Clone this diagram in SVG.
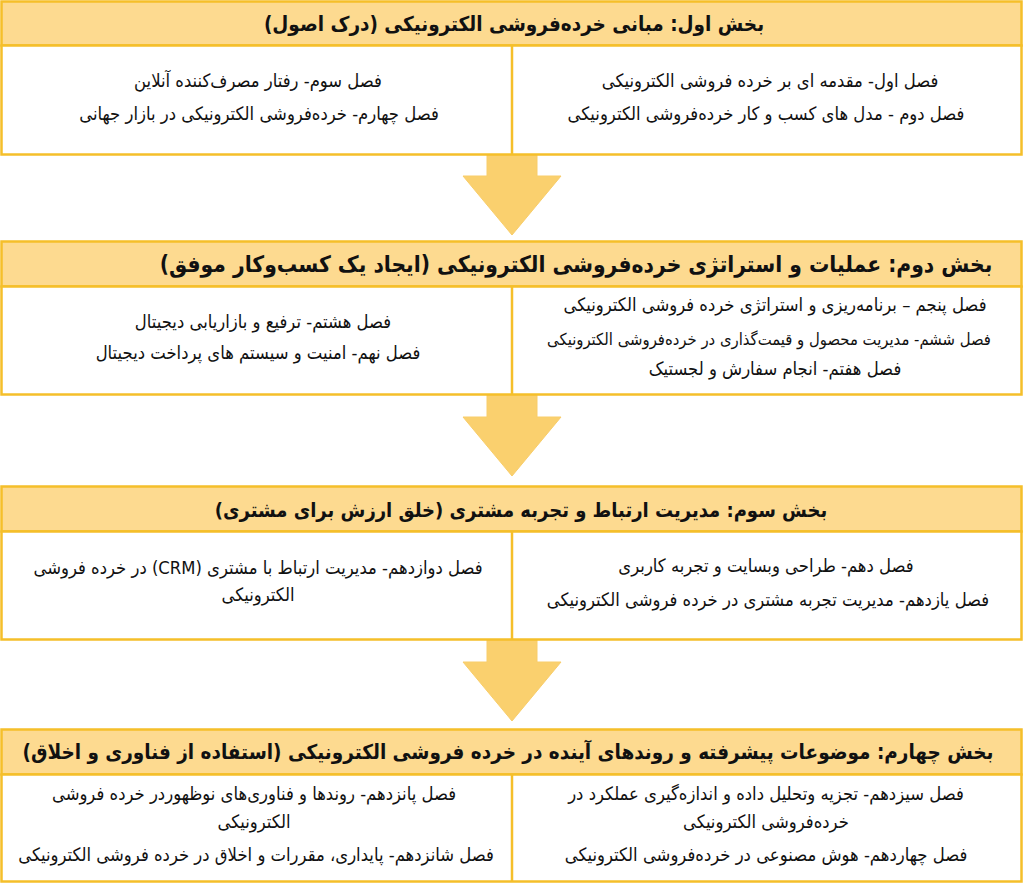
<svg xmlns="http://www.w3.org/2000/svg" width="1024" height="885" viewBox="0 0 1024 885">
<style>
.hdr{fill:#FDDA90;stroke:#F5BF2A;stroke-width:2.5}
.body{fill:#FFFFFF;stroke:#F5BF2A;stroke-width:2.5}
.div{stroke:#F5BF2A;stroke-width:2.5}
.arrow{fill:#FAD06E;stroke:#F8CD6A;stroke-width:1}
.ht{font-family:"DejaVu Sans Condensed","DejaVu Sans",sans-serif;font-stretch:condensed;font-weight:bold;font-size:20.5px;fill:#111;direction:rtl;text-anchor:middle}
.t{font-family:"DejaVu Sans Condensed","DejaVu Sans",sans-serif;font-stretch:condensed;font-size:18.3px;fill:#111;direction:rtl;text-anchor:middle}
</style>
<rect width="1024" height="885" fill="#FFFFFF"/>
<g id="connectors">
<polygon class="arrow" points="487,155 537,155 537,176 561,176 512,235 463,176 487,176"/>
<polygon class="arrow" points="487,395 537,395 537,417 561,417 512,476 463,417 487,417"/>
<polygon class="arrow" points="487,640 537,640 537,662 561,662 512,721 463,662 487,662"/>
</g>
<g id="section1">
<rect class="hdr" x="1.5" y="1.5" width="1020" height="44"/>
<rect class="body" x="1.5" y="45.5" width="1020" height="109"/>
<line class="div" x1="512" y1="45.5" x2="512" y2="154.5"/>
<text class="ht" x="514" y="31">بخش اول: مبانی خرده‌فروشی الکترونیکی (درک اصول)</text>
<text class="t" x="770" y="87">فصل اول- مقدمه ای بر خرده فروشی الکترونیکی</text>
<text class="t" x="766" y="120">فصل دوم  - مدل های کسب و کار خرده‌فروشی الکترونیکی</text>
<text class="t" x="258" y="87">فصل سوم- رفتار مصرف‌کننده آنلاین</text>
<text class="t" x="259" y="120">فصل چهارم- خرده‌فروشی الکترونیکی در بازار جهانی</text>
</g>
<g id="section2">
<rect class="hdr" x="1.5" y="241.5" width="1020" height="45"/>
<rect class="body" x="1.5" y="286.5" width="1020" height="108"/>
<line class="div" x1="512" y1="286.5" x2="512" y2="394.5"/>
<text class="ht" x="576" y="272" style="font-size:22.6px">بخش دوم: عملیات و استراتژی خرده‌فروشی الکترونیکی (ایجاد یک کسب‌وکار موفق)</text>
<text class="t" x="775" y="311">فصل پنجم – برنامه‌ریزی و استراتژی خرده فروشی الکترونیکی</text>
<text class="t" x="769" y="345" style="font-size:16.5px">فصل ششم- مدیریت محصول و قیمت‌گذاری در خرده‌فروشی الکترونیکی</text>
<text class="t" x="775" y="375">فصل هفتم- انجام سفارش و لجستیک</text>
<text class="t" x="263" y="328">فصل هشتم- ترفیع و بازاریابی دیجیتال</text>
<text class="t" x="258" y="359">فصل نهم- امنیت و سیستم های پرداخت دیجیتال</text>
</g>
<g id="section3">
<rect class="hdr" x="1.5" y="486.5" width="1020" height="45"/>
<rect class="body" x="1.5" y="531.5" width="1020" height="108"/>
<line class="div" x1="512" y1="531.5" x2="512" y2="639.5"/>
<text class="ht" x="521" y="517" style="font-size:20px">بخش سوم: مدیریت ارتباط و تجربه مشتری (خلق ارزش برای مشتری)</text>
<text class="t" x="766" y="572">فصل دهم- طراحی وبسایت و تجربه کاربری</text>
<text class="t" x="768" y="606">فصل یازدهم- مدیریت تجربه مشتری در خرده فروشی الکترونیکی</text>
<text class="t" x="258" y="574">فصل دوازدهم- مدیریت ارتباط با مشتری (CRM) در خرده فروشی</text>
<text class="t" x="258" y="601">الکترونیکی</text>
</g>
<g id="section4">
<rect class="hdr" x="1.5" y="729.5" width="1020" height="45"/>
<rect class="body" x="1.5" y="774.5" width="1020" height="107"/>
<line class="div" x1="512" y1="774.5" x2="512" y2="881.5"/>
<text class="ht" x="508" y="759">بخش چهارم: موضوعات پیشرفته و روندهای آینده در خرده فروشی الکترونیکی (استفاده از فناوری و اخلاق)</text>
<text class="t" x="766" y="800">فصل سیزدهم- تجزیه وتحلیل داده و اندازه‌گیری عملکرد در</text>
<text class="t" x="766" y="828">خرده‌فروشی الکترونیکی</text>
<text class="t" x="766" y="861">فصل چهاردهم- هوش مصنوعی در خرده‌فروشی الکترونیکی</text>
<text class="t" x="254" y="800">فصل پانزدهم- روندها و فناوری‌های نوظهوردر خرده فروشی</text>
<text class="t" x="254" y="828">الکترونیکی</text>
<text class="t" x="256" y="861">فصل شانزدهم- پایداری، مقررات و اخلاق در خرده فروشی الکترونیکی</text>
</g>
</svg>
